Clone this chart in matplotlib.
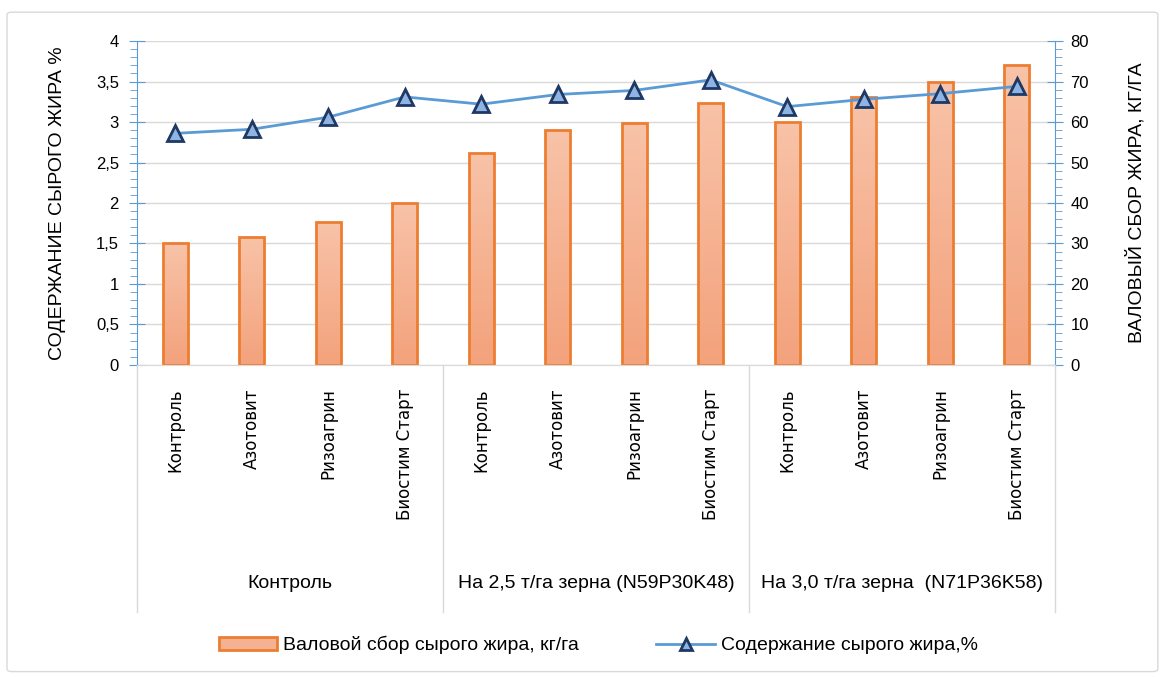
import numpy as np
import matplotlib
matplotlib.use('Agg')
import matplotlib.pyplot as plt
from matplotlib.colors import LinearSegmentedColormap
from matplotlib.transforms import blended_transform_factory
from matplotlib.lines import Line2D
from matplotlib.patches import Patch, FancyBboxPatch
from matplotlib.ticker import MultipleLocator

categories = ['Контроль', 'Азотовит', 'Ризоагрин', 'Биостим Старт'] * 3
groups = ['Контроль', 'На 2,5 т/га зерна (N59P30K48)', 'На 3,0 т/га зерна  (N71P36K58)']
yield_fat = [30.0, 31.6, 35.3, 39.9, 52.3, 58.0, 59.8, 64.8, 60.1, 66.3, 69.8, 74.2]
fat_content = [2.86, 2.91, 3.06, 3.31, 3.22, 3.34, 3.39, 3.52, 3.19, 3.28, 3.35, 3.44]
left_ticks = [0, 0.5, 1, 1.5, 2, 2.5, 3, 3.5, 4]
left_labels = ['0', '0,5', '1', '1,5', '2', '2,5', '3', '3,5', '4']
right_ticks = [0, 10, 20, 30, 40, 50, 60, 70, 80]

plt.rcParams['font.family'] = ['Liberation Sans', 'DejaVu Sans']
NARROW = ['Liberation Sans Narrow', 'Liberation Sans', 'DejaVu Sans']

BLUE = '#5B9BD5'
ORANGE = '#ED7D31'
GRID = '#D9D9D9'

fig = plt.figure(figsize=(11.66, 6.77), dpi=100)
ax = fig.add_axes([0.1175, 0.4609, 0.7873, 0.4785])
axr = ax.twinx()
ax.set_zorder(2)
axr.set_zorder(1)
ax.patch.set_visible(False)

x = np.arange(len(categories))

# bars with vertical gradient
cmap = LinearSegmentedColormap.from_list('g', ['#F3A27C', '#F8C3A8'])
grad = np.linspace(0, 1, 256).reshape(-1, 1)
bars = axr.bar(x, yield_fat, width=0.33, facecolor='none', edgecolor=ORANGE,
               linewidth=2, zorder=3)
for b in bars:
    im = axr.imshow(grad, extent=[b.get_x(), b.get_x() + b.get_width(), 0, b.get_height()],
                    aspect='auto', cmap=cmap, origin='lower', zorder=2)
    im.set_clip_path(b)

axr.set_ylim(0, 80)
axr.set_yticks(right_ticks)
axr.yaxis.set_minor_locator(MultipleLocator(2))
axr.yaxis.grid(True, color=GRID, lw=1)
axr.set_axisbelow(True)
for s in ['left', 'top', 'bottom']:
    axr.spines[s].set_visible(False)
axr.spines['right'].set_color(BLUE)
axr.tick_params(axis='y', which='major', direction='inout', length=12, color=BLUE,
                labelsize=12, pad=5)
axr.tick_params(axis='y', which='minor', direction='out', length=5, color=BLUE)
axr.set_ylabel('ВАЛОВЫЙ СБОР ЖИРА, КГ/ГА', fontsize=14, rotation=90)
axr.yaxis.set_label_coords(1.077, 0.5)

# line
ax.plot(x, fat_content, color=BLUE, lw=2, marker='^', ms=11, mfc='#8DB4E2',
        mec='#1F3864', mew=2, zorder=5)
ax.set_ylim(0, 4)
ax.set_xlim(-0.5, len(categories) - 0.5)
axr.set_xlim(-0.5, len(categories) - 0.5)
ax.set_yticks(left_ticks)
ax.set_yticklabels(left_labels)
ax.yaxis.set_minor_locator(MultipleLocator(0.1))
ax.tick_params(axis='y', which='major', direction='inout', length=12, color=BLUE,
               labelsize=12, pad=7)
ax.tick_params(axis='y', which='minor', direction='out', length=5, color=BLUE)
ax.spines['left'].set_color(BLUE)
ax.spines['top'].set_visible(False)
ax.spines['right'].set_visible(False)
ax.spines['bottom'].set_color(GRID)
ax.set_ylabel('СОДЕРЖАНИЕ СЫРОГО ЖИРА %', fontsize=14)
ax.yaxis.set_label_coords(-0.077, 0.5)

ax.set_xticks(x)
ax.set_xticklabels(categories, rotation=90, fontsize=12, family=['DejaVu Sans'])
ax.tick_params(axis='x', length=0, pad=17)

# group labels and separators
tr = blended_transform_factory(ax.transData, fig.transFigure)
y_axis = 0.4609
y_bottom = (677 - 612) / 677
for i in range(len(groups) + 1):
    xs = i * 4 - 0.5
    ax.add_line(Line2D([xs, xs], [y_axis, y_bottom], transform=tr, color=GRID,
                       lw=1, clip_on=False))
for i, g in enumerate(groups):
    ax.text(i * 4 + 1.5, (677 - 584) / 677, g, transform=tr, ha='center', va='center',
            fontsize=14, family=NARROW)

# legend
handles = [Patch(facecolor='#F5B293', edgecolor=ORANGE, lw=2),
           Line2D([], [], color=BLUE, lw=2, marker='^', ms=9, mfc='#8DB4E2',
                  mec='#1F3864', mew=2)]
labels = ['Валовой сбор сырого жира, кг/га', 'Содержание сырого жира,%']
fig.legend(handles, labels, loc='center', bbox_to_anchor=(0.513, 0.047), ncol=2,
           frameon=False, handlelength=3, columnspacing=4, handletextpad=0.3,
           prop={'family': NARROW, 'size': 14})

# outer border
fig.patches.append(FancyBboxPatch((0.006, 0.008), 0.987, 0.974,
                                  boxstyle='round,pad=0,rounding_size=0.004',
                                  transform=fig.transFigure, fill=False,
                                  ec=GRID, lw=1))

fig.savefig('out.png', dpi=100)
